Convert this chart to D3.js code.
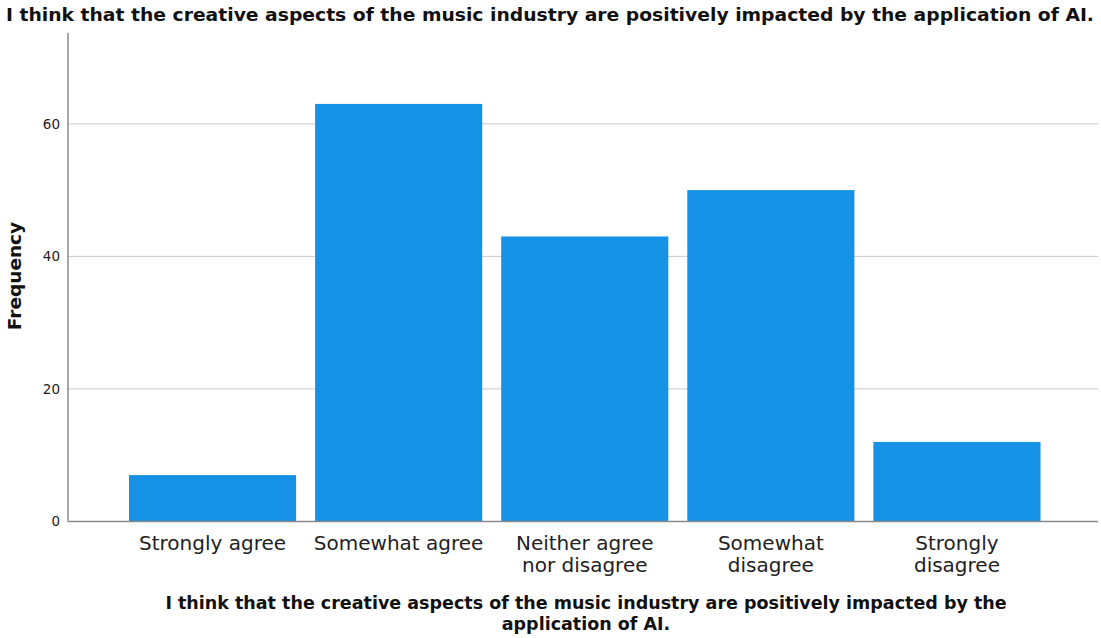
<!DOCTYPE html>
<html><head><meta charset="utf-8">
<script src="https://cdn.jsdelivr.net/npm/d3@7"></script>
<style>body{margin:0;background:#fff}</style>
</head><body>
<svg id="c" width="1101" height="638"></svg>
<script>
const categories = [["Strongly agree"], ["Somewhat agree"], ["Neither agree", "nor disagree"], ["Somewhat", "disagree"], ["Strongly", "disagree"]];
const values = [7, 63, 43, 50, 12];
const yTicks = [0, 20, 40, 60];
const title = "I think that the creative aspects of the music industry are positively impacted by the application of AI.";
const xTitle = ["I think that the creative aspects of the music industry are positively impacted by the", "application of AI."];
const yTitle = "Frequency";

const svg = d3.select("#c");
const font = "'DejaVu Sans', sans-serif";
const x0 = 68, x1 = 1098, yTop = 33, yBot = 521.5;
const y = d3.scaleLinear().domain([0, 73.7]).range([yBot, yTop]);
const keys = categories.map((c, i) => i);
const x = d3.scaleBand().domain(keys).range([119.5, 1050]).paddingInner(0.102).paddingOuter(0.051);

// gridlines
svg.append("g").selectAll("line").data(yTicks.filter(d => d > 0)).join("line")
  .attr("x1", x0).attr("x2", x1).attr("y1", d => y(d)).attr("y2", d => y(d))
  .attr("stroke", "#c8c8c8").attr("stroke-width", 1);

// bars
svg.append("g").selectAll("rect").data(values).join("rect")
  .attr("x", (d, i) => x(i)).attr("width", x.bandwidth())
  .attr("y", d => y(d)).attr("height", d => yBot - y(d))
  .attr("fill", "#1591e6");

// axes lines
svg.append("line").attr("x1", x0).attr("x2", x0).attr("y1", yTop).attr("y2", yBot).attr("stroke", "#8a8a8a").attr("stroke-width", 1.5);
svg.append("line").attr("x1", x0).attr("x2", x1).attr("y1", yBot).attr("y2", yBot).attr("stroke", "#8a8a8a").attr("stroke-width", 1.5);

// y ticks
const yAxis = d3.axisLeft(y).tickValues(yTicks).tickSize(0).tickPadding(8);
const ga = svg.append("g").attr("transform", `translate(${x0},0)`).call(yAxis);
ga.select(".domain").remove();
ga.selectAll("text").attr("font-family", font).attr("font-size", 13.5).attr("fill", "#222");

// x labels
const xl = svg.append("g");
categories.forEach((lines, i) => {
  const t = xl.append("text").attr("x", x(i) + x.bandwidth() / 2).attr("y", 550)
    .attr("text-anchor", "middle").attr("font-family", font).attr("font-size", 20).attr("fill", "#222");
  lines.forEach((l, j) => t.append("tspan").attr("x", x(i) + x.bandwidth() / 2).attr("dy", j ? 22 : 0).text(l));
});

// titles
svg.append("text").attr("x", 550).attr("y", 21).attr("text-anchor", "middle")
  .attr("font-family", font).attr("font-weight", "bold").attr("font-size", 17.5)
  .attr("textLength", 1088).attr("lengthAdjust", "spacingAndGlyphs").attr("fill", "#111").text(title);
xTitle.forEach((l, j) => svg.append("text").attr("text-anchor", "middle").attr("font-family", font)
  .attr("font-weight", "bold").attr("font-size", 17.5).attr("fill", "#111")
  .attr("x", 586).attr("y", 609 + j * 21).text(l));
svg.append("text").attr("transform", "translate(21,276) rotate(-90)").attr("text-anchor", "middle")
  .attr("font-family", font).attr("font-weight", "bold").attr("font-size", 18.5).attr("fill", "#111").text(yTitle);
</script>
</body></html>
